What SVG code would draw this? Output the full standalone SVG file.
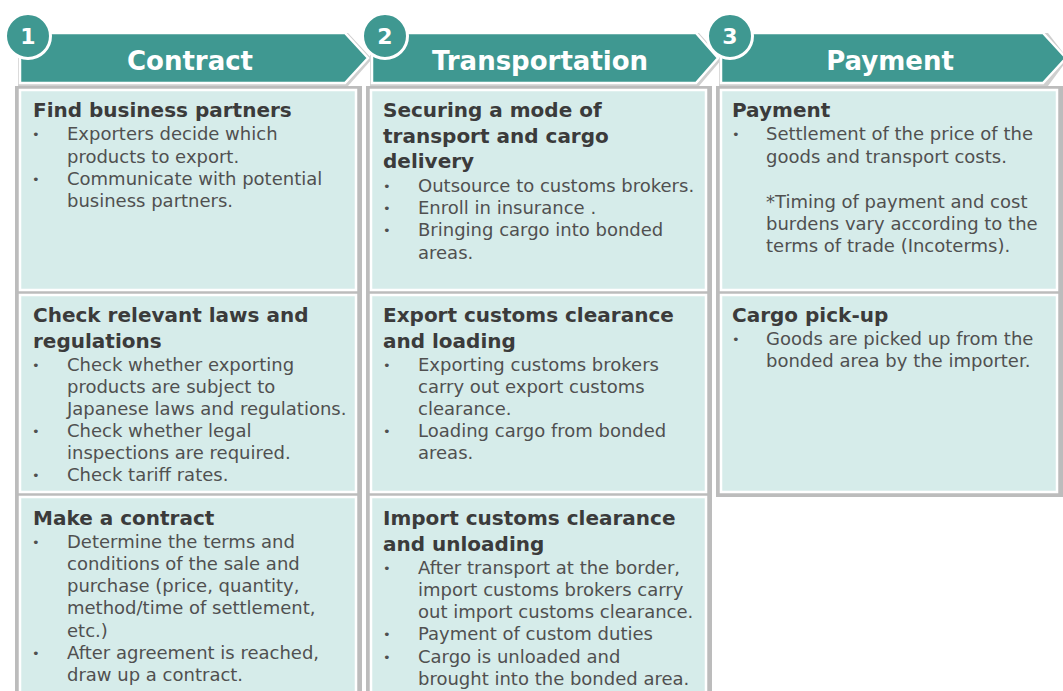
<svg xmlns="http://www.w3.org/2000/svg" width="1063" height="691" viewBox="0 0 1063 691">
<style>
.bg{fill:#bcbcbc}
.box{fill:#d6ecea;stroke:#ffffff;stroke-width:2.5}
.ban{fill:#3f9891;stroke:#ffffff;stroke-width:2.5}
.banShadow{fill:#cfcfcf}
.num{fill:#3f9891;stroke:#ffffff;stroke-width:3}
.ht{font-family:"DejaVu Sans",Verdana,sans-serif;font-weight:bold;font-size:26px;fill:#ffffff;text-anchor:middle}
.nt{font-family:"DejaVu Sans",Verdana,sans-serif;font-weight:bold;font-size:22px;fill:#ffffff;text-anchor:middle}
.t{font-family:"DejaVu Sans",Verdana,sans-serif;font-weight:bold;font-size:20px;fill:#3b3b3b}
.b{font-family:"DejaVu Sans",Verdana,sans-serif;font-size:18px;fill:#505050}
.d{font-family:"DejaVu Sans",Verdana,sans-serif;font-size:13px;fill:#505050}
</style>
<rect width="1063" height="691" fill="#ffffff"/>
<g id="headers">
  <g id="h1">
    <polygon class="banShadow" points="18,33 348,33 372,59 348,86 18,86"/>
    <polygon class="ban" points="20,33 345,33 368,58 345,83 20,83"/>
    <text class="ht" x="190" y="70">Contract</text>
    <circle class="num" cx="28" cy="36" r="22.5"/>
    <text class="nt" x="28" y="44">1</text>
  </g>
  <g id="h2">
    <polygon class="banShadow" points="370,33 699,33 722,59 699,86 370,86"/>
    <polygon class="ban" points="372,33 696,33 718,58 696,83 372,83"/>
    <text class="ht" x="540" y="70">Transportation</text>
    <circle class="num" cx="385" cy="36" r="22.5"/>
    <text class="nt" x="385" y="44">2</text>
  </g>
  <g id="h3">
    <polygon class="banShadow" points="719,33 1048,33 1068,59 1048,86 719,86"/>
    <polygon class="ban" points="721,33 1043,33 1066,58 1043,83 721,83"/>
    <text class="ht" x="890" y="70">Payment</text>
    <circle class="num" cx="730" cy="36" r="22.5"/>
    <text class="nt" x="730" y="44">3</text>
  </g>
</g>
<g id="backgrounds">
  <rect class="bg" x="15" y="86" width="347" height="610"/>
  <rect class="bg" x="366" y="86" width="346" height="610"/>
  <rect class="bg" x="716" y="86" width="347" height="411"/>
</g>
<g id="c1r1">
  <rect class="box" x="20" y="90" width="336" height="200"/>
  <text class="t" x="33" y="117">Find business partners</text>
  <text class="d" x="32" y="139">•</text><text class="b" x="67" y="140">Exporters decide which</text>
  <text class="b" x="67" y="163">products to export.</text>
  <text class="d" x="32" y="184">•</text><text class="b" x="67" y="185">Communicate with potential</text>
  <text class="b" x="67" y="207">business partners.</text>
</g>
<g id="c1r2">
  <rect class="box" x="20" y="295" width="336" height="197"/>
  <text class="t" x="33" y="322">Check relevant laws and</text>
  <text class="t" x="33" y="348">regulations</text>
  <text class="d" x="32" y="370">•</text><text class="b" x="67" y="371">Check whether exporting</text>
  <text class="b" x="67" y="393">products are subject to</text>
  <text class="b" x="67" y="415">Japanese laws and regulations.</text>
  <text class="d" x="32" y="436">•</text><text class="b" x="67" y="437">Check whether legal</text>
  <text class="b" x="67" y="459">inspections are required.</text>
  <text class="d" x="32" y="480">•</text><text class="b" x="67" y="481">Check tariff rates.</text>
</g>
<g id="c1r3">
  <rect class="box" x="20" y="497" width="336" height="204"/>
  <text class="t" x="33" y="525">Make a contract</text>
  <text class="d" x="32" y="547">•</text><text class="b" x="67" y="548">Determine the terms and</text>
  <text class="b" x="67" y="570">conditions of the sale and</text>
  <text class="b" x="67" y="592">purchase (price, quantity,</text>
  <text class="b" x="67" y="614">method/time of settlement,</text>
  <text class="b" x="67" y="637">etc.)</text>
  <text class="d" x="32" y="658">•</text><text class="b" x="67" y="659">After agreement is reached,</text>
  <text class="b" x="67" y="681">draw up a contract.</text>
</g>
<g id="c2r1">
  <rect class="box" x="371" y="90" width="335" height="200"/>
  <text class="t" x="383" y="117">Securing a mode of</text>
  <text class="t" x="383" y="143">transport and cargo</text>
  <text class="t" x="383" y="168">delivery</text>
  <text class="d" x="383" y="191">•</text><text class="b" x="418" y="192">Outsource to customs brokers.</text>
  <text class="d" x="383" y="213">•</text><text class="b" x="418" y="214">Enroll in insurance .</text>
  <text class="d" x="383" y="235">•</text><text class="b" x="418" y="236">Bringing cargo into bonded</text>
  <text class="b" x="418" y="259">areas.</text>
</g>
<g id="c2r2">
  <rect class="box" x="371" y="295" width="335" height="197"/>
  <text class="t" x="383" y="322">Export customs clearance</text>
  <text class="t" x="383" y="348">and loading</text>
  <text class="d" x="383" y="370">•</text><text class="b" x="418" y="371">Exporting customs brokers</text>
  <text class="b" x="418" y="393">carry out export customs</text>
  <text class="b" x="418" y="415">clearance.</text>
  <text class="d" x="383" y="436">•</text><text class="b" x="418" y="437">Loading cargo from bonded</text>
  <text class="b" x="418" y="459">areas.</text>
</g>
<g id="c2r3">
  <rect class="box" x="371" y="497" width="335" height="204"/>
  <text class="t" x="383" y="525">Import customs clearance</text>
  <text class="t" x="383" y="551">and unloading</text>
  <text class="d" x="383" y="573">•</text><text class="b" x="418" y="574">After transport at the border,</text>
  <text class="b" x="418" y="596">import customs brokers carry</text>
  <text class="b" x="418" y="618">out import customs clearance.</text>
  <text class="d" x="383" y="639">•</text><text class="b" x="418" y="640">Payment of custom duties</text>
  <text class="d" x="383" y="662">•</text><text class="b" x="418" y="663">Cargo is unloaded and</text>
  <text class="b" x="418" y="685">brought into the bonded area.</text>
</g>
<g id="c3r1">
  <rect class="box" x="721" y="90" width="336" height="200"/>
  <text class="t" x="732" y="117">Payment</text>
  <text class="d" x="732" y="139">•</text><text class="b" x="766" y="140">Settlement of the price of the</text>
  <text class="b" x="766" y="163">goods and transport costs.</text>
  <text class="b" x="766" y="208">*Timing of payment and cost</text>
  <text class="b" x="766" y="230">burdens vary according to the</text>
  <text class="b" x="766" y="252">terms of trade (Incoterms).</text>
</g>
<g id="c3r2">
  <rect class="box" x="721" y="295" width="336" height="197"/>
  <text class="t" x="732" y="322">Cargo pick-up</text>
  <text class="d" x="732" y="344">•</text><text class="b" x="766" y="345">Goods are picked up from the</text>
  <text class="b" x="766" y="367">bonded area by the importer.</text>
</g>
<g id="connectors"></g>
</svg>
